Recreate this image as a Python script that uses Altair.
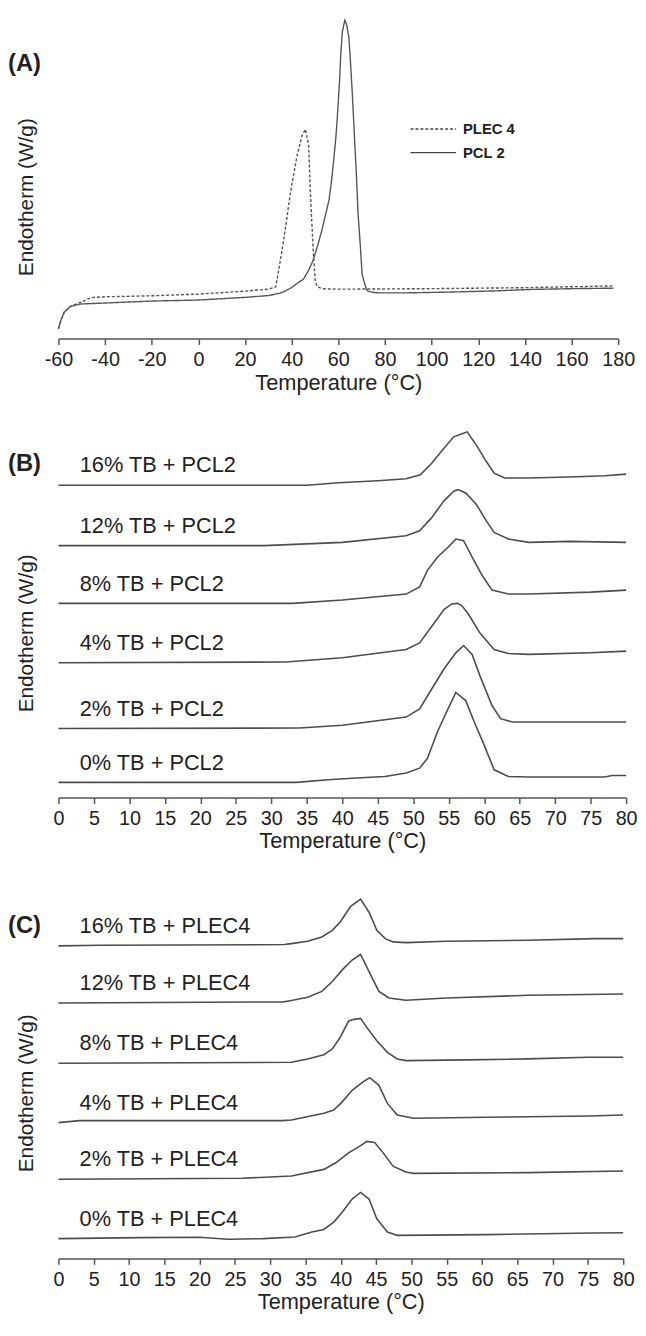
import altair as alt
import pandas as pd

FONT = "Liberation Sans"
LINE = "#4d4d4d"
TEXT = "#222222"

# ---------------- Panel A : full DSC traces ----------------
a_pcl2_temp = [-60, -59, -57.5, -55, -50.5, -40, -20, 0, 20, 30, 35, 37, 40, 43, 45, 47, 49,
               51, 53, 55, 56, 57, 58, 59, 59.6, 60.5, 61, 61.7, 62.8, 63.5, 64.5, 65.2, 65.9,
               67, 67.7, 68.5, 69.4, 70.2, 71, 72, 72.7, 75, 77, 90, 107, 128, 142, 160, 178]
a_pcl2_val = [10, 18.3, 26.7, 32.3, 35, 36, 38, 39, 41.7, 43.5, 46, 47.7, 51.7, 57, 60, 68, 78,
              93, 110, 130, 140, 158, 180, 205, 225, 260, 285, 310, 322, 318, 305, 280, 252,
              200, 168, 125, 95, 65, 58, 50, 48, 46.7, 46.3, 46.3, 47, 48.3, 49.7, 50.5, 51]

a_plec4_temp = [-60, -59, -57.5, -55, -52, -50, -47, -45, -40, -20, 0, 20, 30, 33.2, 34.5, 36.7,
                39.5, 42.3, 44.4, 45.9, 47.3, 48, 49.4, 50.1, 51, 53, 60, 100, 140, 178]
a_plec4_val = [10, 18, 26.7, 32.5, 35.5, 37, 40.5, 41.7, 42.3, 43.3, 45, 48, 50, 52.3, 70, 101.7,
               148, 185, 205, 211.7, 195, 148, 81.7, 58.3, 52.5, 50.5, 50, 50.5, 51.5, 53.3]

a_series = ["PLEC 4", "PCL 2"]
a_dashes = [[3, 2], [1, 0]]
a_ticks = list(range(-60, 181, 20))

# ---------------- Panel B : TB + PCL2 ----------------
b_names = ["16% TB + PCL2", "12% TB + PCL2", "8% TB + PCL2",
           "4% TB + PCL2", "2% TB + PCL2", "0% TB + PCL2"]
b16_temp = [0, 35, 39.5, 45, 49, 51, 52.6, 54.3, 55.7, 56.6, 57.6, 58.9, 60.3, 61.4, 62.9, 66, 72, 77, 80]
b16_val = [315.7, 315.7, 318.3, 320.3, 322.3, 326.3, 338, 353, 364.7, 367, 369.7, 356.3, 339.7, 328,
           323, 323, 324, 325.3, 327]
b12_temp = [0, 29, 40, 49, 50.9, 52.6, 54.3, 55.7, 56.3, 57.4, 58.9, 60.3, 61.4, 63.4, 66.3, 72, 80]
b12_val = [254.7, 254.7, 258, 264.7, 269.7, 283, 299.7, 309.7, 311.3, 308, 296.3, 279.7, 268, 261.3,
           258, 259, 258]
b8_temp = [0, 33, 40, 49, 50.9, 52, 53.4, 54.9, 56, 57.1, 58.3, 59.7, 61.1, 63.4, 66.3, 75, 80]
b8_val = [196.3, 196.3, 199.7, 205.7, 213, 229.7, 243, 253, 261.3, 259.7, 243, 224.7, 209.7, 205.7,
          205.7, 207.7, 209.7]
b4_temp = [0, 32, 40, 49, 50.9, 52.6, 54.3, 55.4, 56.2, 56.8, 57.7, 59.4, 61.4, 63.4, 66.3, 75, 80]
b4_val = [136.3, 137, 141.3, 149.7, 156.3, 173, 189.7, 195.7, 196.3, 194.3, 186.3, 166.3, 149.7,
          145.7, 144.7, 146.3, 148]
b2_temp = [0, 34, 40, 49, 50.9, 52.6, 54.3, 56, 57.1, 58.3, 59.4, 61.1, 62.3, 64, 80]
b2_val = [69.7, 70.3, 73, 81.3, 89.7, 109.7, 129.7, 146.3, 153.7, 144.7, 123, 93, 79.7, 76.3, 76.3]
b0_temp = [0, 33.5, 38, 42, 46, 49, 50.9, 52, 53.4, 54.9, 56, 57.4, 58.6, 60, 61.4, 63.4, 66.3, 77, 78, 80]
b0_val = [15.3, 15.3, 18, 19.7, 21.3, 24.7, 29.7, 39.7, 66.3, 89.7, 106.3, 98, 76.3, 53, 28, 21.3,
          20.7, 20.7, 22.3, 22.3]

# ---------------- Panel C : TB + PLEC4 ----------------
c_names = ["16% TB + PLEC4", "12% TB + PLEC4", "8% TB + PLEC4",
           "4% TB + PLEC4", "2% TB + PLEC4", "0% TB + PLEC4"]
c16_temp = [0, 6, 32, 33, 35.3, 37.3, 38.8, 39.9, 41.4, 42.8, 44, 45.1, 46.3, 47.4, 49.2, 55, 66.5, 76, 80]
c16_val = [316, 316.7, 317.3, 318.3, 320.7, 325, 331.7, 340, 356, 363.3, 350, 331.7, 323.3, 320,
           319.3, 320.7, 321.7, 323.3, 323.3]
c12_temp = [0, 31.8, 33, 35.3, 37.3, 38.8, 40.2, 41.6, 42.8, 44, 45.4, 46.8, 49.2, 55, 66.5, 80]
c12_val = [258.3, 259.3, 260.7, 264, 270, 280, 291.7, 301.7, 307.3, 290, 270, 263.3, 261, 263.3,
           266, 267.3]
c8_temp = [0, 33, 35.3, 37.6, 38.8, 39.9, 41.1, 41.9, 42.8, 43.7, 45.1, 46.6, 48, 49.2, 57.8, 66.5, 75, 80]
c8_val = [197.3, 198.3, 201.7, 206, 211.7, 223.3, 240, 241.7, 242.7, 233.3, 220, 208.3, 201.7, 200,
          200.7, 201.7, 203.3, 203.3]
c4_temp = [0, 3, 31.8, 33, 37.6, 39, 40.2, 41.6, 43.1, 44.1, 45.4, 46.6, 48, 50.3, 60.7, 75.2, 80]
c4_val = [137.3, 139.3, 139.3, 140, 146.7, 150, 158.3, 170, 178.3, 182.7, 175, 156.7, 145, 141.7,
          142.7, 144, 145]
c2_temp = [0, 26, 33, 37.6, 39.3, 41.1, 42.8, 43.7, 44.8, 46, 47.4, 49.2, 50.3, 66.5, 80]
c2_val = [80, 81, 83.3, 90, 96.7, 106.7, 114, 118.3, 117.3, 106.7, 93.3, 87.3, 86, 86.7, 88.3]
c0_temp = [0, 11.6, 20, 24, 29, 33.5, 35.9, 37.6, 39, 40.2, 41.6, 42.8, 44, 45.1, 46.6, 48, 60.7, 75.8, 80]
c0_val = [20, 21, 21.3, 19.3, 20, 21.7, 26.7, 29.3, 36.7, 46.7, 60, 66.7, 60, 40, 26.7, 23.3, 24,
          25.7, 26]

bc_ticks = list(range(0, 81, 5))


def long_frame(names, temps, vals):
    rows = []
    for name, ts, vs in zip(names, temps, vals):
        for t, v in zip(ts, vs):
            rows.append({"series": name, "temp": t, "val": v})
    return pd.DataFrame(rows)


def label_frame(names, vals, x):
    return pd.DataFrame({"series": names, "temp": [x] * len(names), "val": [v[0] for v in vals]})


def x_axis(ticks):
    return alt.Axis(values=ticks, title="Temperature (\u00b0C)", grid=False, labelOverlap=False,
                    labelExpr="'' + datum.value",
                    domainColor="#555555", domainWidth=1.5, tickColor="#555555", tickWidth=1.5,
                    tickSize=6, labelPadding=5, labelFontSize=20, labelColor=TEXT, labelFont=FONT,
                    titleFontSize=22, titleFontWeight="normal", titleColor=TEXT, titleFont=FONT,
                    titlePadding=3, labelFlush=False)


def y_axis(h):
    return alt.Axis(title="Endotherm (W/g)", domain=False, ticks=False, labels=False, grid=False,
                    titleFontSize=21, titleFontWeight="normal", titleColor=TEXT, titleFont=FONT,
                    titleX=-32, titleY=h / 2 + 20, titleBaseline="middle", titleAngle=-90,
                    minExtent=0)


def panel_tag(tag, y):
    return alt.Chart(pd.DataFrame({"tag": [tag]})).mark_text(
        align="left", baseline="middle", fontSize=24, fontWeight="bold", font=FONT, color=TEXT
    ).encode(text="tag:N", x=alt.value(-51), y=alt.value(y))


# ----- build panel A -----
HA, WA = 327, 566
dfA = long_frame(a_series, [a_plec4_temp, a_pcl2_temp], [a_plec4_val, a_pcl2_val])
xA = alt.X("temp:Q", scale=alt.Scale(domain=[-60, 180], nice=False), axis=x_axis(a_ticks))
yA = alt.Y("val:Q", scale=alt.Scale(domain=[0, HA], nice=False), axis=y_axis(HA))
linesA = alt.Chart(dfA).mark_line(color="#555555", strokeWidth=1.4).encode(
    x=xA, y=yA,
    strokeDash=alt.StrokeDash("series:N", scale=alt.Scale(domain=a_series, range=a_dashes),
                              legend=None),
    detail="series:N",
)

# hand-placed key (two entries) in the upper right of panel A
key_layers = []
for i, (name, dash) in enumerate(zip(a_series, a_dashes)):
    ky = 115 + 24 * i
    kdf = pd.DataFrame({"series": [name]})
    key_layers.append(alt.Chart(kdf).mark_rule(color="#444444", strokeWidth=1.4, strokeDash=dash)
                      .encode(x=alt.value(356), x2=alt.value(402), y=alt.value(ky)))
    key_layers.append(alt.Chart(kdf).mark_text(align="left", baseline="middle", fontSize=15,
                                               fontWeight="bold", font=FONT, color=TEXT)
                      .encode(text="series:N", x=alt.value(409), y=alt.value(ky)))

panelA = alt.layer(linesA, *key_layers, panel_tag("(A)", 49)).properties(width=WA, height=HA)


def stacked_panel(names, temps, vals, tag, tag_y, h, w):
    df = long_frame(names, temps, vals)
    lab = label_frame(names, vals, 3)
    x = alt.X("temp:Q", scale=alt.Scale(domain=[0, 80], nice=False), axis=x_axis(bc_ticks))
    y = alt.Y("val:Q", scale=alt.Scale(domain=[0, h], nice=False), axis=y_axis(h))
    lines = alt.Chart(df).mark_line(color=LINE, strokeWidth=1.6).encode(
        x=x, y=y, detail="series:N", order="temp:Q")
    texts = alt.Chart(lab).mark_text(align="left", baseline="middle", dy=-20, fontSize=22,
                                     font=FONT, color=TEXT).encode(x=x, y=y, text="series:N")
    return alt.layer(lines, texts, panel_tag(tag, tag_y)).properties(width=w, height=h)


panelB = stacked_panel(b_names, [b16_temp, b12_temp, b8_temp, b4_temp, b2_temp, b0_temp],
                       [b16_val, b12_val, b8_val, b4_val, b2_val, b0_val], "(B)", 36, 373, 574)
panelC = stacked_panel(c_names, [c16_temp, c12_temp, c8_temp, c4_temp, c2_temp, c0_temp],
                       [c16_val, c12_val, c8_val, c4_val, c2_val, c0_val], "(C)", 39, 375, 571)

chart = alt.vconcat(panelA, panelB, panelC, spacing=36).properties(padding=0).configure(
    font=FONT).configure_view(stroke=None)

chart.save("out.html", embed_options={"renderer": "svg", "actions": False})
